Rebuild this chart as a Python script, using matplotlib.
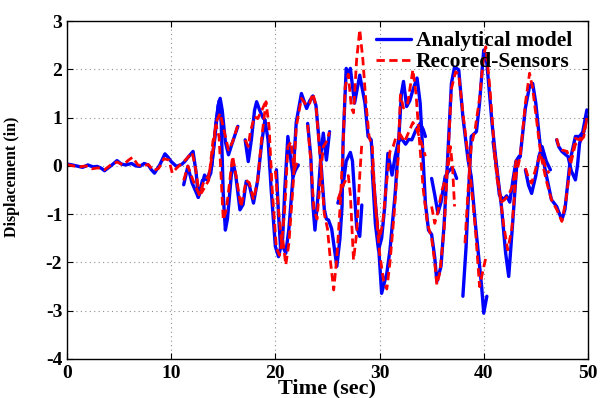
import matplotlib
matplotlib.use('Agg')
import matplotlib.pyplot as plt

plt.rcParams['font.family'] = ['Liberation Serif', 'DejaVu Serif']
plt.rcParams['font.weight'] = 'bold'
plt.rcParams['axes.unicode_minus'] = False

b1_t = [0, 0.5, 0.9, 1.5, 2.0, 2.5, 2.9, 3.3, 3.6, 4.2, 4.8, 5.2, 5.6, 6.2, 6.6, 7.0, 7.4, 7.8, 8.1, 8.4,
        8.9, 9.4, 9.7, 10.0, 10.5, 11.0, 11.3, 11.7, 12.1, 12.4, 12.6, 12.9, 13.2, 13.5, 13.8, 14.2, 14.5,
        14.7, 14.9, 15.2, 15.5, 15.9, 16.4]
b1_v = [0.04, 0.02, 0.0, -0.03, 0.02, -0.02, -0.01, -0.05, -0.10, 0.0, 0.11, 0.04, 0.02, 0.05, 0.0, -0.01,
        0.05, 0.02, -0.08, -0.15, 0.02, 0.25, 0.18, 0.09, -0.01, 0.03, 0.09, 0.20, 0.30, -0.15, -0.65, -0.45,
        -0.19, -0.30, -0.15, 0.60, 1.25, 1.40, 1.15, 0.50, 0.23, 0.50, 0.82]

b2_t = [11.2, 11.6, 12.0, 12.6, 13.0, 13.5, 13.9, 14.3, 14.6, 14.8, 15.0, 15.2, 15.4, 15.9, 16.2, 16.6, 16.9,
        17.2, 17.5, 17.9, 18.3, 18.7, 19.0, 19.3, 19.6, 20.0, 20.3, 20.6, 21.0, 21.3, 21.7, 22.0, 22.5, 23.0,
        23.3, 23.6, 23.9, 24.1, 24.4, 24.7, 24.9, 25.1, 25.4, 25.9, 26.2, 26.4, 26.5, 26.8, 27.0, 27.2, 27.6,
        28.1, 28.6, 28.9, 29.2, 29.4, 29.8, 30.2, 30.7, 31.0, 31.5, 31.8, 32.1, 32.3, 32.6, 32.9, 33.2, 33.6,
        33.9, 34.1, 34.4, 34.7, 35.0, 35.3, 35.5, 35.9, 36.2, 36.5, 36.9, 37.2, 37.6, 38.0, 38.5, 38.8, 39.2,
        39.8, 40.0, 40.3]
b2_v = [-0.39, -0.01, -0.35, -0.65, -0.30, -0.25, 0.00, 0.90, 1.35, 0.90, -0.60, -1.33, -1.10, 0.12, -0.20,
        -0.91, -0.80, -0.32, -0.40, -0.77, -0.30, 0.50, 0.95, 0.54, -0.50, -1.67, -1.88, -1.60, -1.81, -1.30,
        -0.20, 0.90, 1.50, 1.19, 1.35, 1.45, 1.25, 0.75, 0.00, -0.90, -1.10, -1.12, -1.30, -2.08, -1.50, -0.84,
        0.50, 2.02, 1.85, 2.02, 1.30, 1.88, 1.30, 0.61, 0.54, -0.22, -1.30, -2.64, -2.22, -1.74, -0.57, 0.40,
        1.50, 1.75, 1.23, 1.35, 1.57, 1.82, 1.30, 0.50, -0.77, -1.33, -1.42, -1.90, -2.40, -2.08, -1.20, 0.00,
        1.71, 2.05, 1.99, 1.02, 0.12, -0.22, -1.20, -2.50, -3.05, -2.70]

b3_t = [17.1, 17.4, 17.7, 18.0, 18.2, 18.5, 18.8, 19.0]
b3_v = [0.54, 0.09, 0.55, 1.15, 1.33, 1.15, 1.00, 0.95]

b4_t = [20.1, 20.3, 20.5, 20.7, 20.9, 21.2, 21.5, 21.7, 21.9, 22.2]
b4_v = [-0.08, -1.00, -1.70, -1.50, -0.50, 0.61, 0.10, -0.22, -0.10, 0.02]

b5_t = [23.1, 23.4, 23.6, 23.8, 24.1, 24.4, 24.6, 24.9, 25.2]
b5_v = [0.88, 0.20, -0.80, -1.33, -0.60, 0.30, 0.68, 0.12, 0.71]

b6_t = [26.0, 26.5, 26.8, 27.2, 27.4, 27.8, 28.1, 28.3]
b6_v = [-0.77, -0.40, 0.10, 0.28, 0.10, -1.26, -1.46, -0.81]

b7_t = [29.3, 29.6, 29.9, 30.2, 30.5, 30.8, 31.2, 31.5, 31.8, 32.1, 32.5, 32.8, 33.1, 33.5, 33.9, 34.2, 34.4]
b7_v = [-0.10, -1.20, -1.74, -1.50, -0.84, 0.26, -0.19, 0.20, 0.50, 0.57, 0.45, 0.55, 0.54, 0.75, 0.88, 0.75, 0.61]

b8_t = [35.0, 35.3, 35.6, 35.9, 36.3, 36.6, 36.9, 37.1, 37.4]
b8_v = [-0.26, -0.60, -0.98, -0.75, -0.22, -0.12, -0.05, -0.08, -0.26]

b9_t = [38.0, 38.3, 38.5, 38.8, 39.3, 39.6, 40.0, 40.3, 40.8, 41.2, 41.7, 42.1, 42.4, 42.8, 43.2, 43.5, 44.0,
        44.4, 44.7, 45.0, 45.4, 45.9, 46.5, 47.0, 47.5, 47.8, 48.3, 48.8, 49.2, 49.5, 49.9]
b9_v = [-2.70, -1.70, -0.77, 0.61, 0.71, 1.30, 2.40, 2.13, 0.88, 0.06, -0.84, -1.80, -2.29, -1.12, 0.12, 0.19,
        1.20, 1.65, 1.71, 1.30, 0.47, -0.08, -0.70, -0.84, -1.12, -0.90, 0.12, 0.61, 0.61, 0.70, 1.16]

b10_t = [40.9, 41.2, 41.5, 41.9, 42.2, 42.5, 42.8, 43.1, 43.4]
b10_v = [0.50, 0.00, -0.60, -0.70, -0.62, -0.75, -0.30, 0.10, 0.20]

b11_t = [44.0, 44.3, 44.6, 45.0, 45.3, 45.6, 46.0, 46.4]
b11_v = [-0.08, -0.40, -0.57, -0.20, 0.20, 0.40, 0.10, -0.08]

b12_t = [47.0, 47.2, 47.5, 48.1, 48.4, 48.8, 49.0, 49.2, 49.6, 49.9]
b12_v = [0.54, 0.40, 0.30, 0.19, -0.10, -0.29, 0.00, 0.47, 0.70, 1.02]

# ---- Recorded sensors (red dashed) ----
r1_t = [0, 0.6, 1.2, 1.8, 2.4, 3.0, 3.6, 4.2, 4.8, 5.4, 5.9, 6.3, 6.8, 7.3, 7.8, 8.3, 8.8, 9.3, 9.8, 10.1,
        10.5, 11.0, 11.5, 12.0, 12.3, 12.6, 12.9, 13.2, 13.6, 14.0, 14.4, 14.7, 15.0, 15.5, 15.9, 16.4]
r1_v = [0.03, 0.0, -0.02, 0.0, -0.06, -0.04, -0.08, 0.02, 0.08, 0.02, 0.12, 0.18, 0.02, 0.0, 0.03, -0.10,
        -0.05, 0.15, 0.12, -0.15, -0.05, 0.05, 0.15, 0.28, 0.0, -0.45, -0.56, -0.45, -0.30, 0.50, 0.95, 1.09,
        0.80, 0.33, 0.50, 0.85]

r2_t = [11.2, 11.6, 12.1, 12.7, 13.1, 13.6, 14.0, 14.3, 14.6, 15.0, 15.3, 15.9, 16.3, 16.7, 17.2, 17.5, 17.9,
        18.3, 18.7, 19.1, 19.4, 19.7, 20.1, 20.4, 20.7, 21.0, 21.3, 21.7, 22.0, 22.5, 23.0, 23.3, 23.6, 23.9,
        24.1, 24.4, 24.7, 25.0, 25.3, 25.6, 25.9, 26.2, 26.5, 26.7, 27.0, 27.3, 27.5, 27.8, 28.1, 28.4, 28.7,
        29.0, 29.3, 29.6, 30.0, 30.4, 30.7, 31.0, 31.4, 31.8, 32.0, 32.3, 32.7, 33.2, 33.5, 33.8, 34.2, 34.6,
        35.0, 35.3, 35.5, 35.8, 36.2, 36.5, 36.9, 37.3, 37.6, 38.0, 38.5, 38.8, 39.2, 39.6, 39.9, 40.2]
r2_v = [-0.30, 0.00, -0.30, -0.60, -0.35, -0.20, 0.30, 0.85, 0.60, -1.12, -0.90, 0.20, -0.30, -0.85, -0.30,
        -0.35, -0.70, -0.30, 0.60, 1.33, 0.80, -0.50, -1.70, -1.85, -1.50, -2.05, -1.60, -0.40, 0.80, 1.40,
        1.25, 1.30, 1.50, 1.25, 0.70, -0.10, -1.00, -1.30, -2.00, -2.57, -1.90, -0.90, 0.40, 1.64, 1.90, 1.20,
        1.10, 2.20, 2.82, 2.20, 1.30, 0.60, 0.40, -0.80, -1.80, -2.40, -2.55, -2.00, -1.00, 0.20, 1.47, 1.20,
        1.30, 1.99, 1.50, 0.60, -0.50, -1.20, -1.50, -2.00, -2.46, -2.20, -1.30, -0.10, 1.60, 1.95, 1.90, 1.10,
        0.20, -0.40, -1.30, -2.50, -2.20, -1.90]

r3_t = [17.1, 17.4, 17.6, 18.0, 18.3, 18.7, 19.0]
r3_v = [0.54, 0.40, 0.71, 1.02, 0.98, 1.15, 1.30]

r4_t = [20.0, 20.3, 20.6, 20.9, 21.2, 21.5, 21.8, 22.1]
r4_v = [-0.10, -0.90, -1.60, -0.90, 0.40, 0.50, -0.10, 0.10]

r5_t = [23.1, 23.4, 23.7, 24.0, 24.3, 24.6, 24.9, 25.2]
r5_v = [0.85, 0.10, -0.90, -1.10, -0.30, 0.40, 0.50, 0.70]

r6_t = [26.0, 26.5, 27.0, 27.2, 27.5, 27.8, 28.1, 28.3]
r6_v = [-0.70, -0.40, -0.20, -0.60, -1.95, -1.40, -0.20, 0.47]

r7_t = [29.3, 29.7, 30.0, 30.3, 30.6, 31.0, 31.3, 31.6, 32.0, 32.4, 32.8, 33.2, 33.5, 33.9, 34.2, 34.4]
r7_v = [0.00, -1.00, -1.50, -1.20, -0.50, 0.30, 0.40, 0.61, 0.65, 0.50, 0.70, 0.90, 0.80, 0.55, 0.35, 0.20]

r8_t = [35.0, 35.3, 35.6, 36.0, 36.3, 36.6, 36.8, 37.0, 37.2]
r8_v = [-0.84, -1.19, -0.95, -0.50, -0.29, 0.00, 0.40, 0.00, -0.84]

r9_t = [38.2, 38.5, 38.8, 39.2, 39.6, 40.0, 40.2, 40.6, 41.0, 41.5, 41.9, 42.3, 42.7, 43.1, 43.5, 44.0, 44.4,
        44.7, 45.1, 45.5, 46.0, 46.5, 47.0, 47.5, 47.9, 48.3, 48.8, 49.2, 49.6, 49.9]
r9_v = [-1.60, -0.50, 0.40, 0.80, 1.40, 2.30, 2.47, 1.60, 0.40, -0.50, -1.20, -1.74, -1.30, -0.20, 0.20, 1.30,
        1.92, 1.60, 0.90, 0.20, -0.30, -0.70, -0.90, -1.15, -0.70, 0.00, 0.45, 0.50, 0.60, 0.99]

r10_t = [41.0, 41.3, 41.7, 42.0, 42.4, 42.8, 43.1, 43.4]
r10_v = [0.30, -0.30, -0.75, -0.70, -0.60, -0.40, 0.10, 0.15]

r11_t = [44.0, 44.3, 44.6, 45.0, 45.4, 45.7, 46.0, 46.3]
r11_v = [-0.05, -0.25, -0.36, -0.05, 0.23, 0.15, -0.08, -0.15]

r12_t = [47.0, 47.2, 47.5, 48.0, 48.3, 48.6, 48.8, 49.2, 49.6, 49.9]
r12_v = [0.57, 0.40, 0.33, 0.30, 0.10, 0.35, 0.57, 0.54, 0.70, 0.99]

blue_pieces = [(b1_t, b1_v), (b2_t, b2_v), (b3_t, b3_v), (b4_t, b4_v), (b5_t, b5_v), (b6_t, b6_v),
               (b7_t, b7_v), (b8_t, b8_v), (b9_t, b9_v), (b10_t, b10_v), (b11_t, b11_v), (b12_t, b12_v)]
red_pieces = [(r1_t, r1_v), (r2_t, r2_v), (r3_t, r3_v), (r4_t, r4_v), (r5_t, r5_v), (r6_t, r6_v),
              (r7_t, r7_v), (r8_t, r8_v), (r9_t, r9_v), (r10_t, r10_v), (r11_t, r11_v), (r12_t, r12_v)]

x_ticks = [0, 10, 20, 30, 40, 50]
y_ticks = [-4, -3, -2, -1, 0, 1, 2, 3]

fig = plt.figure(figsize=(6.01, 3.98), dpi=100)
ax = fig.add_axes([0.1115, 0.098, 0.8667, 0.849])

for i, (t, v) in enumerate(blue_pieces):
    ax.plot(t, v, color='#0000ff', lw=2.4, solid_joinstyle='round', solid_capstyle='round',
            label='Analytical model' if i == 0 else None)
for i, (t, v) in enumerate(red_pieces):
    ax.plot(t, v, color='#ff0000', lw=2.0, ls=(0, (3, 1.6)),
            label='Recored-Sensors' if i == 0 else None)

ax.set_xlim(0, 50)
ax.set_ylim(-4, 3)
ax.set_xticks(x_ticks)
ax.set_yticks(y_ticks)
ax.tick_params(direction='in', top=True, right=True, labelsize=14, length=4, width=0.8)
ax.tick_params(axis='x', pad=4)
for lab in ax.get_xticklabels() + ax.get_yticklabels():
    lab.set_fontweight('bold')
ax.grid(True, linestyle=(0, (1, 3)), color='#909090', linewidth=0.8)
for s in ax.spines.values():
    s.set_linewidth(1.0)

ax.set_xlabel('Time (sec)', fontsize=16, fontweight='bold', labelpad=-2)
ax.set_ylabel('Displacement (in)', fontsize=11.5, fontweight='bold')
ax.yaxis.set_label_coords(-0.09, 0.54)

leg = ax.legend(loc='upper right', bbox_to_anchor=(0.97, 0.97), frameon=False,
                prop={'size': 15.5, 'weight': 'bold'}, handlelength=1.6, handletextpad=0.25,
                labelspacing=0.05, borderpad=0, borderaxespad=0)

fig.savefig('out.png', dpi=100)
